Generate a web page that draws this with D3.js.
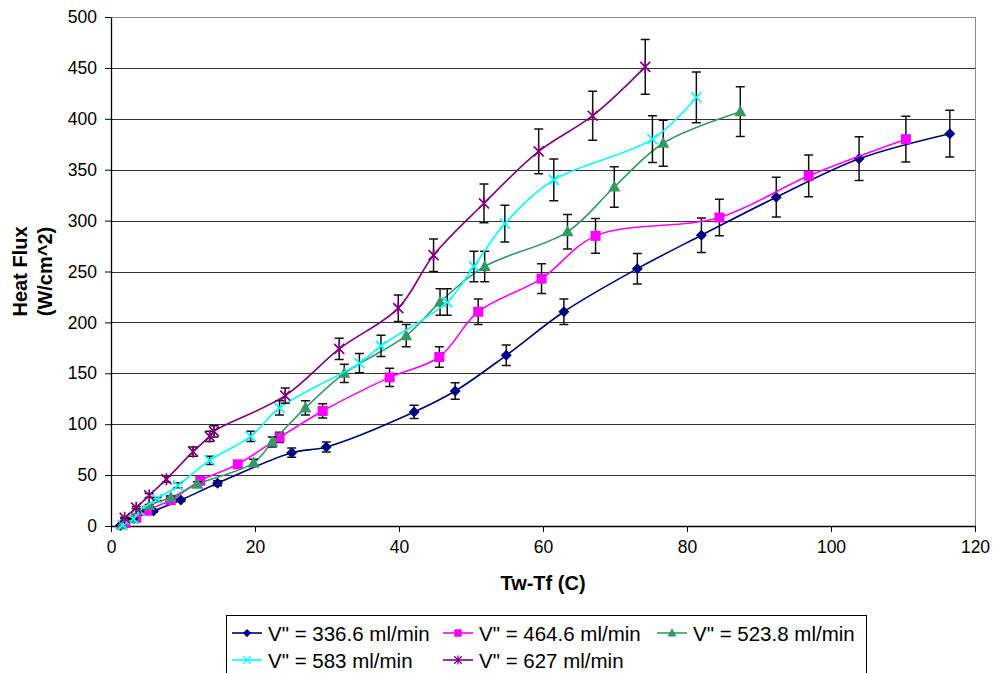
<!DOCTYPE html>
<html>
<head>
<meta charset="utf-8">
<script src="https://cdn.jsdelivr.net/npm/d3@7/dist/d3.min.js"></script>
<style>
  body { margin: 0; background: #fff; }
  text { font-family: Arial, "Liberation Sans", sans-serif; }
</style>
</head>
<body>
<div id="chart"></div>
<script>

var margin = {top: 17, right: 18, bottom: 147, left: 111};
var width = 993;
var height = 673;
var plotW = width - margin.left - margin.right;
var plotH = height - margin.top - margin.bottom;

// series: Tw-Tf (C), heat flux (W/cm^2), error bar half size
var names = ['V" = 336.6 ml/min', 'V" = 464.6 ml/min', 'V" = 523.8 ml/min', 'V" = 583 ml/min', 'V" = 627 ml/min'];

var dt336 = [1.3, 3.2, 5.9, 9.7, 14.8, 25.1, 29.9, 42.1, 47.8, 54.9, 62.9, 73.1, 82.0, 92.4, 103.9, 116.5];
var q336  = [0.5, 7.5, 14.7, 25.5, 42, 72, 77.6, 112, 132.6, 167.7, 210.5, 252.8, 285.6, 323, 360.8, 385.4];
var err336 = [0, 0.5, 1, 1.5, 2.5, 4.5, 5, 6.5, 8, 10, 12.5, 15, 17, 19.5, 21.5, 23];

var dt464 = [2.0, 3.5, 5.0, 8.3, 12.4, 17.6, 23.4, 29.4, 38.7, 45.6, 51.0, 59.8, 67.3, 84.5, 96.9, 110.4];
var q464  = [3, 8, 15, 25.5, 44.5, 60.6, 87, 113, 146, 166, 210.5, 243, 285, 303, 344, 380];
var err464 = [0, 0.5, 1, 1.5, 2.5, 3.5, 5, 7, 9, 10, 12.5, 14.5, 17, 18, 20.5, 22.5];

var dt523 = [1.5, 3.0, 5.3, 8.3, 12.0, 19.8, 22.4, 27.0, 32.4, 41.0, 45.7, 51.9, 63.4, 69.9, 76.7, 87.4];
var q523  = [1, 7, 20, 28, 41, 62, 82.5, 116, 150, 187, 220, 255, 289, 333, 376, 407];
var err523 = [0, 0.5, 1, 1.5, 2.5, 3.5, 5, 7, 9, 11, 13, 15, 17, 20, 22.5, 24.5];

var dt583 = [1.6, 3.1, 4.0, 6.4, 9.3, 13.7, 19.4, 23.4, 34.5, 37.5, 46.7, 50.4, 54.7, 61.5, 75.2, 81.3];
var q583  = [1, 7, 15, 26.5, 40, 64.5, 88, 116, 160, 177, 220, 255, 297, 340, 380, 421];
var err583 = [0, 0.5, 1, 1.5, 2.5, 4, 5, 7, 9.5, 10.5, 13, 15, 18, 20.5, 23, 25];

var dt627 = [1.9, 3.5, 5.3, 7.7, 11.4, 13.7, 14.3, 24.2, 31.7, 39.9, 44.8, 51.8, 59.4, 66.9, 74.2];
var q627  = [8, 18, 30, 46, 73, 88, 93, 128, 174, 214, 266, 317, 368, 403, 451];
var err627 = [0.5, 1, 2, 3, 4.5, 5, 5.5, 7.5, 10.5, 13, 16, 19, 22, 24, 27];

var xTicks = [0, 20, 40, 60, 80, 100, 120];
var yTicks = [0, 50, 100, 150, 200, 250, 300, 350, 400, 450, 500];

var colors = ["#000080", "#ff00ff", "#339966", "#00ffff", "#800080"];
var shapes = ["diamond", "square", "triangle", "cross", "star"];

function zipSeries(xs, ys, es) {
  return xs.map(function(x, i) { return {x: x, y: ys[i], e: es[i]}; });
}

var series = [
  zipSeries(dt336, q336, err336),
  zipSeries(dt464, q464, err464),
  zipSeries(dt523, q523, err523),
  zipSeries(dt583, q583, err583),
  zipSeries(dt627, q627, err627)
];

function drawMarker(sel, shape, color) {
  if (shape == "diamond") {
    sel.append("path").attr("d", "M0,-5.5L5.5,0L0,5.5L-5.5,0Z").attr("fill", color);
  } else if (shape == "square") {
    sel.append("rect").attr("x", -5).attr("y", -5).attr("width", 10).attr("height", 10).attr("fill", color);
  } else if (shape == "triangle") {
    sel.append("path").attr("d", "M0,-6.5L6,4.5L-6,4.5Z").attr("fill", color);
  } else if (shape == "cross") {
    sel.append("path").attr("d", "M-5,-5L5,5M-5,5L5,-5")
      .attr("stroke", color).attr("stroke-width", 1.7).attr("fill", "none");
  } else {
    sel.append("path").attr("d", "M-5,-5L5,5M-5,5L5,-5M0,-6L0,6")
      .attr("stroke", color).attr("stroke-width", 1.7).attr("fill", "none");
  }
}

createchart();

function createchart() {

  var svg = d3.select("#chart")
    .append("svg")
    .attr("width", width)
    .attr("height", height);

  var g = svg.append("g")
    .attr("transform", "translate(" + margin.left + "," + margin.top + ")");

  var xScale = d3.scaleLinear().domain([0, 120]).range([0, plotW]);
  var yScale = d3.scaleLinear().domain([0, 500]).range([plotH, 0]);

  // gridlines
  g.selectAll(".grid")
    .data(yTicks.filter(function(d) { return d > 0; }))
    .enter()
    .append("line")
    .attr("class", "grid")
    .attr("x1", 0).attr("x2", plotW)
    .attr("y1", function(d) { return Math.round(yScale(d)) + 0.5; })
    .attr("y2", function(d) { return Math.round(yScale(d)) + 0.5; })
    .attr("stroke", function(d) { return d == 500 ? "#888" : "#333"; })
    .attr("stroke-width", 1);

  // right border
  g.append("line")
    .attr("x1", plotW + 0.5).attr("x2", plotW + 0.5)
    .attr("y1", 0).attr("y2", plotH)
    .attr("stroke", "#888");

  var xAxis = g.append("g")
    .attr("transform", "translate(0," + plotH + ")")
    .call(d3.axisBottom(xScale).tickValues(xTicks).tickSize(6).tickPadding(9).tickSizeOuter(0));

  var yAxis = g.append("g")
    .call(d3.axisLeft(yScale).tickValues(yTicks).tickSize(6).tickPadding(8).tickSizeOuter(0));

  [xAxis, yAxis].forEach(function(ax) {
    ax.select(".domain").attr("stroke", "#000").attr("stroke-width", 1.3);
    ax.selectAll(".tick line").attr("stroke", "#000");
    ax.selectAll(".tick text").attr("font-size", "17.5px").attr("fill", "#000")
      .attr("font-family", "Arial, 'Liberation Sans', sans-serif");
  });

  var line = d3.line()
    .x(function(d) { return xScale(d.x); })
    .y(function(d) { return yScale(d.y); })
    .curve(d3.curveCatmullRom.alpha(0.5));

  series.forEach(function(data, k) {
    var sg = g.append("g");

    sg.append("path")
      .datum(data)
      .attr("d", line)
      .attr("fill", "none")
      .attr("stroke", colors[k])
      .attr("stroke-width", 1.6);

    sg.selectAll(".err")
      .data(data.filter(function(d) { return d.e > 0; }))
      .enter()
      .append("path")
      .attr("class", "err")
      .attr("d", function(d) {
        var cx = xScale(d.x), y1 = yScale(d.y + d.e), y2 = yScale(d.y - d.e);
        return "M" + cx + "," + y1 + "L" + cx + "," + y2 +
               "M" + (cx - 4.5) + "," + y1 + "L" + (cx + 4.5) + "," + y1 +
               "M" + (cx - 4.5) + "," + y2 + "L" + (cx + 4.5) + "," + y2;
      })
      .attr("stroke", "#111")
      .attr("stroke-width", 1.5)
      .attr("fill", "none");

    sg.selectAll(".mark")
      .data(data)
      .enter()
      .append("g")
      .attr("class", "mark")
      .attr("transform", function(d) { return "translate(" + xScale(d.x) + "," + yScale(d.y) + ")"; })
      .each(function() { drawMarker(d3.select(this), shapes[k], colors[k]); });
  });

  // axis titles
  svg.append("text")
    .attr("x", margin.left + plotW / 2)
    .attr("y", 590)
    .attr("text-anchor", "middle")
    .attr("font-size", "20px")
    .attr("font-weight", "bold")
    .text("Tw-Tf (C)");

  var yt = svg.append("text")
    .attr("transform", "translate(27," + (margin.top + plotH / 2) + ") rotate(-90)")
    .attr("text-anchor", "middle")
    .attr("font-size", "20px")
    .attr("font-weight", "bold");
  yt.append("tspan").attr("x", 0).attr("y", 0).text("Heat Flux");
  yt.append("tspan").attr("x", 0).attr("y", 25).text("(W/cm^2)");

  // legend
  var lg = svg.append("g");
  lg.append("rect")
    .attr("x", 226.5).attr("y", 615.5)
    .attr("width", 640).attr("height", 64)
    .attr("fill", "#fff").attr("stroke", "#000");

  var legendPos = [[232, 633], [443, 633], [657, 633], [232, 660], [443, 660]];
  names.forEach(function(name, k) {
    var item = lg.append("g")
      .attr("transform", "translate(" + legendPos[k][0] + "," + legendPos[k][1] + ")");
    item.append("line")
      .attr("x1", 0).attr("x2", 30).attr("y1", 0).attr("y2", 0)
      .attr("stroke", colors[k]).attr("stroke-width", 1.6);
    var m = item.append("g").attr("transform", "translate(15,0) scale(0.75)");
    drawMarker(m, shapes[k], colors[k]);
    item.append("text")
      .attr("x", 36).attr("y", 7.5)
      .attr("font-size", "20.5px")
      .text(name);
  });

};

</script>
</body>
</html>
